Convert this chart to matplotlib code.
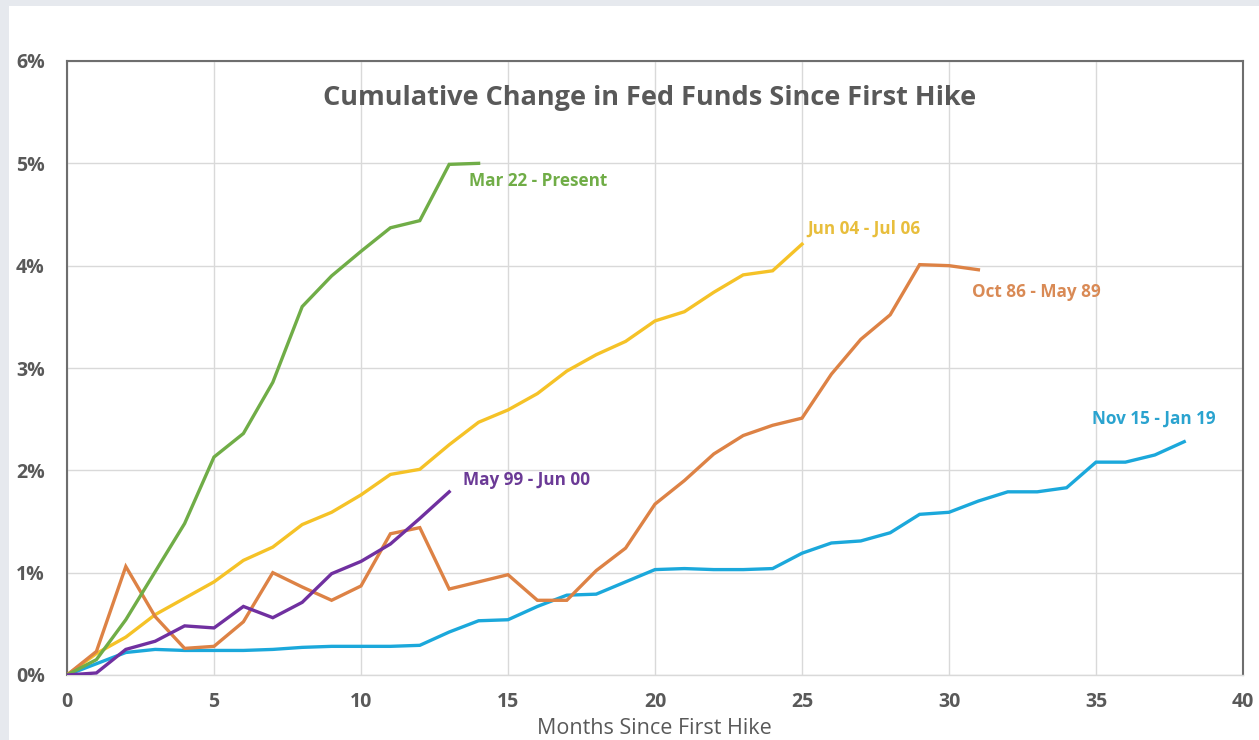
import numpy as np
import matplotlib.pyplot as plt
from matplotlib.patches import Rectangle
from matplotlib.ticker import FuncFormatter

plt.rcParams['font.family'] = ['Open Sans', 'DejaVu Sans']

# cumulative change in fed funds (%) by months since first hike
mar22 = [0, 0.15, 0.54, 1.01, 1.48, 2.13, 2.36, 2.86, 3.60, 3.90, 4.14, 4.37, 4.44, 4.99, 5.0]
jun04 = [0, 0.21, 0.37, 0.59, 0.75, 0.91, 1.12, 1.25, 1.47, 1.59, 1.76, 1.96, 2.01, 2.25,
         2.47, 2.59, 2.75, 2.97, 3.13, 3.26, 3.46, 3.55, 3.74, 3.91, 3.95, 4.21]
oct86 = [0, 0.23, 1.06, 0.57, 0.26, 0.28, 0.52, 1.0, 0.86, 0.73, 0.87, 1.38, 1.44, 0.84,
         0.91, 0.98, 0.73, 0.73, 1.02, 1.24, 1.67, 1.90, 2.16, 2.34, 2.44, 2.51, 2.94,
         3.28, 3.52, 4.01, 4.0, 3.96]
may99 = [0, 0.02, 0.25, 0.33, 0.48, 0.46, 0.67, 0.56, 0.71, 0.99, 1.11, 1.28, 1.53, 1.79]
nov15 = [0, 0.11, 0.22, 0.25, 0.24, 0.24, 0.24, 0.25, 0.27, 0.28, 0.28, 0.28, 0.29, 0.42,
         0.53, 0.54, 0.67, 0.78, 0.79, 0.91, 1.03, 1.04, 1.03, 1.03, 1.04, 1.19, 1.29,
         1.31, 1.39, 1.57, 1.59, 1.70, 1.79, 1.79, 1.83, 2.08, 2.08, 2.15, 2.28]

series = [
    ("Mar 22 - Present", mar22, "#70AD47", "#70AD47", (13.66, 4.83)),
    ("Jun 04 - Jul 06", jun04, "#F5C227", "#E8BE3C", (25.19, 4.36)),
    ("Oct 86 - May 89", oct86, "#DD8245", "#D98A55", (30.78, 3.74)),
    ("May 99 - Jun 00", may99, "#7030A0", "#6B3A96", (13.46, 1.91)),
    ("Nov 15 - Jan 19", nov15, "#1BA8DB", "#2AA3CF", (34.88, 2.50)),
]
# drawing order (later on top)
order = [4, 1, 2, 0, 3]

fig = plt.figure(figsize=(12.59, 7.40), dpi=100)
fig.patch.set_facecolor("white")
# light border bands on the left and top
fig.patches.append(Rectangle((0, 0), 9 / 1259, 1, transform=fig.transFigure,
                             facecolor="#E6E9EE", edgecolor="none", zorder=0))
fig.patches.append(Rectangle((0, 1 - 6 / 740), 1, 6 / 740, transform=fig.transFigure,
                             facecolor="#E6E9EE", edgecolor="none", zorder=0))

ax = fig.add_axes([67 / 1259, 65 / 740, (1243 - 67) / 1259, (675 - 61) / 740])

for i in order:
    name, vals, c, lc, pos = series[i]
    x = np.arange(len(vals))
    ax.plot(x, vals, color=c, lw=2.4, solid_joinstyle="miter", zorder=3)
    ax.text(pos[0], pos[1], name, color=lc, fontsize=12.3, fontweight="bold",
            ha="left", va="center", zorder=4)

ax.set_xlim(0, 40)
ax.set_ylim(0, 6)
ax.set_xticks(np.arange(0, 41, 5))
ax.set_yticks(np.arange(0, 7, 1))
ax.yaxis.set_major_formatter(FuncFormatter(lambda v, p: f"{int(v)}%"))
ax.grid(True, color="#D9D9D9", lw=1, zorder=0)
ax.tick_params(length=0, labelsize=14, labelcolor="#595959")
ax.tick_params(axis="y", pad=16)
ax.tick_params(axis="x", pad=12)
for lab in ax.get_xticklabels() + ax.get_yticklabels():
    lab.set_fontweight("bold")

for s in ["left", "top", "right"]:
    ax.spines[s].set_color("#6E6E6E")
    ax.spines[s].set_linewidth(1.5)
ax.spines["bottom"].set_color("#D9D9D9")
ax.spines["bottom"].set_linewidth(1)

fig.text(0.516, 1 - 98 / 740, "Cumulative Change in Fed Funds Since First Hike",
         ha="center", va="center", fontsize=19.5, fontweight="bold", color="#595959")
fig.text(0.52, 1 - 728 / 740, "Months Since First Hike", ha="center", va="center",
         fontsize=15.5, color="#595959")

fig.savefig("out.png", dpi=100)
